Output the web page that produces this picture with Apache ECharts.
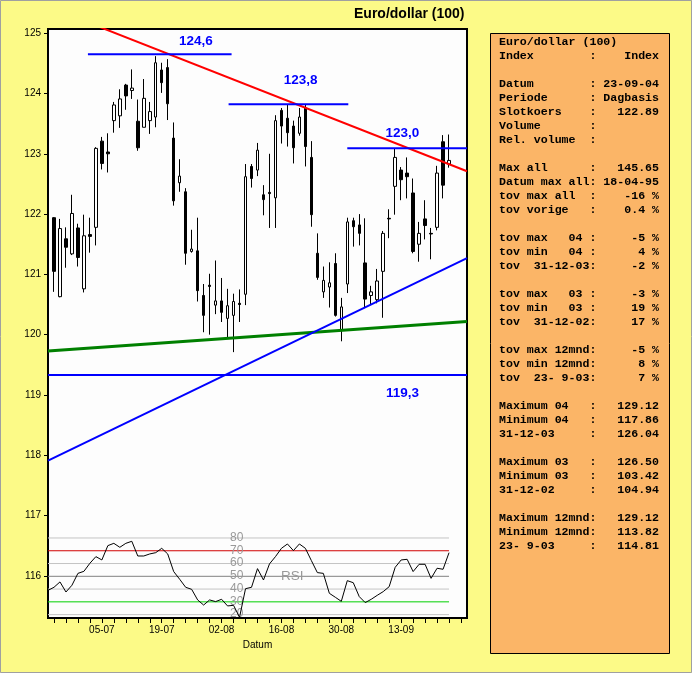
<!DOCTYPE html>
<html lang="nl">
<head>
<meta charset="UTF-8">
<title>Euro/dollar (100)</title>
<script src="https://cdn.jsdelivr.net/npm/echarts@6/dist/echarts.min.js"></script>
<style>
    html, body { margin: 0; padding: 0; background: #FCFA87; }
    #main { width: 692px; height: 673px; }
</style>
</head>
<body>
<div id="main"></div>
<script>
// trading days; the first day only carries the start of the RSI line
let dates = ['22-06', '23-06', '24-06', '25-06', '28-06', '29-06', '30-06',
    '01-07', '02-07', '05-07', '06-07', '07-07', '08-07', '09-07', '12-07', '13-07', '14-07', '15-07', '16-07',
    '19-07', '20-07', '21-07', '22-07', '23-07', '26-07', '27-07', '28-07', '29-07', '30-07',
    '02-08', '03-08', '04-08', '05-08', '06-08', '09-08', '10-08', '11-08', '12-08', '13-08',
    '16-08', '17-08', '18-08', '19-08', '20-08', '23-08', '24-08', '25-08', '26-08', '27-08', '30-08', '31-08',
    '01-09', '02-09', '03-09', '06-09', '07-09', '08-09', '09-09', '10-09',
    '13-09', '14-09', '15-09', '16-09', '17-09', '20-09', '21-09', '22-09', '23-09'];
let tickLabels = ['05-07', '19-07', '02-08', '16-08', '30-08', '13-09'];
let yTicks = [116, 117, 118, 119, 120, 121, 122, 123, 124, 125];

// candles from 23-06 to 23-09
let open = [121.94, 120.63, 121.59, 121.34, 121.77, 120.76, 121.66, 121.78, 123.21, 123.03,
    123.55, 123.63, 124.14, 124.05, 123.54, 123.44, 123.55, 123.61, 124.39, 124.43,
    123.26, 122.52, 122.37, 121.38, 121.39, 120.65, 120.82, 120.49, 120.56, 120.27,
    120.32, 120.52, 120.67, 122.79, 122.73, 122.32, 122.36, 122.27, 123.72, 123.59,
    123.46, 123.34, 123.76, 122.94, 121.35, 120.71, 120.79, 121.18, 120.07, 120.84,
    121.89, 121.82, 121.19, 120.65, 120.58, 121.05, 121.93, 122.46, 122.73, 122.68,
    122.35, 121.50, 121.92, 121.68, 121.78, 123.20, 122.83];
let close = [121.05, 121.76, 121.45, 122.01, 121.28, 121.64, 121.63, 123.09, 122.84, 123.00,
    123.81, 123.91, 123.96, 124.09, 123.10, 123.92, 123.70, 124.51, 124.18, 123.83,
    122.22, 122.63, 121.35, 121.42, 120.73, 120.32, 120.80, 120.56, 120.37, 120.48,
    120.55, 120.50, 122.62, 122.59, 123.06, 122.24, 122.34, 123.55, 123.46, 123.35,
    123.10, 123.61, 123.12, 121.99, 120.95, 120.90, 120.86, 120.32, 120.46, 121.87,
    121.79, 121.68, 120.59, 120.71, 120.89, 121.68, 121.92, 122.94, 122.57, 122.62,
    121.38, 121.68, 121.81, 121.67, 122.68, 122.48, 122.89];
let high = [121.95, 121.92, 121.78, 122.32, 121.84, 121.99, 121.94, 123.11, 123.28, 123.34,
    123.86, 124.07, 124.16, 124.40, 123.90, 124.24, 123.86, 124.62, 124.51, 124.57,
    123.52, 122.91, 122.43, 121.74, 121.94, 120.84, 121.01, 121.23, 120.94, 120.76,
    120.68, 120.75, 122.83, 122.83, 123.18, 122.48, 123.00, 123.64, 123.76, 123.81,
    123.55, 123.76, 123.81, 123.21, 121.68, 121.13, 121.20, 121.35, 120.61, 121.94,
    121.94, 122.00, 121.93, 120.81, 121.09, 121.72, 122.08, 123.09, 122.78, 122.94,
    122.59, 121.87, 122.23, 121.77, 122.80, 123.31, 123.32];
let low = [120.71, 120.62, 121.11, 121.32, 121.13, 120.70, 121.36, 121.48, 122.74, 122.69,
    123.35, 123.43, 123.73, 123.91, 123.05, 123.44, 123.33, 123.44, 124.01, 123.56,
    122.14, 122.37, 121.16, 121.36, 120.55, 120.04, 120.00, 120.34, 120.21, 119.96,
    119.71, 120.21, 120.49, 122.44, 122.63, 121.98, 121.77, 121.77, 123.17, 123.12,
    122.84, 123.30, 122.79, 121.79, 120.91, 120.61, 120.45, 120.30, 119.89, 120.69,
    121.46, 121.48, 120.44, 120.49, 120.52, 120.28, 121.60, 121.99, 122.23, 122.26,
    121.35, 121.21, 121.58, 121.25, 121.73, 122.26, 122.77];

// RSI, one value per date (including 22-06)
let rsi = [39.0, 41.4, 45.6, 37.7, 43.0, 52.3, 53.9, 60.2, 65.4, 62.8, 74.0,
    75.8, 72.7, 75.8, 77.4, 65.9, 65.9, 67.5, 68.5, 71.9, 67.5,
    53.7, 47.7, 41.4, 39.8, 31.5, 27.5, 31.5, 30.2, 32.0, 26.8,
    27.3, 17.9, 40.3, 41.4, 56.0, 47.1, 59.7, 65.4, 71.9, 75.3,
    70.1, 75.3, 71.9, 62.3, 52.9, 52.3, 36.7, 33.6, 30.4, 46.6,
    45.0, 34.1, 29.4, 32.0, 35.1, 38.0, 41.9, 57.0, 62.8, 63.3,
    53.7, 59.4, 59.4, 48.4, 56.3, 55.5, 68.5];
let rsiLevels = [80, 70, 60, 50, 40, 30, 20];
let rsiLevelColors = ['#C4C4C4', '#D00000', '#C4C4C4', '#808080', '#C4C4C4', '#00D000', '#C4C4C4'];

// trend lines, [date index, price] at both ends
let redLine = [[0, 125.44], [70, 122.71]];
let greenLine = [[0, 119.73], [70, 120.22]];
let blueLine = [[0, 117.91], [70, 121.27]];

// horizontal levels
let levelValue = [124.65, 123.82, 123.09, 119.33];
let levelFrom = [6.67, 30.17, 50, 0];
let levelTo = [30.67, 50.17, 70, 70];
let levelText = ['124,6', '123,8', '123,0', '119,3'];
let levelTagX = [24.8, 42.3, 59.3, 59.3];
let levelTagY = [124.85, 124.21, 123.34, 119.02];

let infoRows = [
    ['Euro/dollar (100)', null],
    ['Index', 'Index'],
    null,
    ['Datum', '23-09-04'],
    ['Periode', 'Dagbasis'],
    ['Slotkoers', '122.89'],
    ['Volume', ''],
    ['Rel. volume', ''],
    null,
    ['Max all', '145.65'],
    ['Datum max all', '18-04-95'],
    ['tov max all', '-16 %'],
    ['tov vorige', '0.4 %'],
    null,
    ['tov max   04', '-5 %'],
    ['tov min   04', '4 %'],
    ['tov  31-12-03', '-2 %'],
    null,
    ['tov max   03', '-3 %'],
    ['tov min   03', '19 %'],
    ['tov  31-12-02', '17 %'],
    null,
    ['tov max 12mnd', '-5 %'],
    ['tov min 12mnd', '8 %'],
    ['tov  23- 9-03', '7 %'],
    null,
    ['Maximum 04', '129.12'],
    ['Minimum 04', '117.86'],
    ['31-12-03', '126.04'],
    null,
    ['Maximum 03', '126.50'],
    ['Minimum 03', '103.42'],
    ['31-12-02', '104.94'],
    null,
    ['Maximum 12mnd', '129.12'],
    ['Minimum 12mnd', '113.82'],
    ['23- 9-03', '114.81']
];

let infoText = infoRows.map(function (r) {
    if (!r) return '';
    if (r[1] === null) return r[0];
    return r[0].padEnd(13) + ':' + r[1].padStart(9);
}).join('\n');

let categories = dates.concat(['', '', '']);
let candles = dates.map(function (d, i) {
    if (i === 0) return '-';
    return [open[i - 1], close[i - 1], low[i - 1], high[i - 1]];
});

let myChart = echarts.init(document.getElementById('main'));

let font = 'Liberation Sans';
let trend = function (data, color, width) {
    return {
        type: 'line', xAxisIndex: 1, yAxisIndex: 0, data: data,
        symbol: 'none', silent: true, z: 3,
        lineStyle: {color: color, width: width}
    };
};
// centred text label on an invisible point
let tagLabel = function (color, size, weight) {
    return {
        show: true, position: [0, 0], align: 'center', verticalAlign: 'middle',
        formatter: '{b}', color: color, fontSize: size, fontWeight: weight,
        fontFamily: font, textBorderWidth: 0
    };
};

let series = [];
series.push({
    type: 'candlestick',
    xAxisIndex: 0, yAxisIndex: 0,
    data: candles,
    barWidth: 3,
    silent: true,
    z: 2,
    itemStyle: {
        color: '#ffffff', color0: '#000000',
        borderColor: '#000000', borderColor0: '#000000',
        borderWidth: 1
    }
});
series.push(trend(greenLine, '#008000', 3));
series.push(trend(blueLine, '#0000FF', 2));
series.push(trend(redLine, '#FF0000', 2));
levelValue.forEach(function (v, i) {
    series.push(trend([[levelFrom[i], v], [levelTo[i], v]], '#0000FF', 2));
});
series.push({
    type: 'scatter', xAxisIndex: 1, yAxisIndex: 0, silent: true, z: 5,
    symbolSize: 1,
    itemStyle: {color: 'rgba(0,0,0,0)', opacity: 1},
    data: levelText.map(function (t, i) {
        return {name: t, value: [levelTagX[i], levelTagY[i]]};
    }),
    label: tagLabel('#0000FF', 13.5, 'bold')
});

// RSI panel
rsiLevels.forEach(function (v, i) {
    series.push({
        type: 'line', xAxisIndex: 2, yAxisIndex: 1, silent: true, z: 2,
        symbol: 'none',
        data: [[0, v], [dates.length - 1, v]],
        lineStyle: {color: rsiLevelColors[i], width: 1}
    });
});
series.push({
    type: 'scatter', xAxisIndex: 2, yAxisIndex: 1, silent: true, z: 3,
    symbolSize: 1,
    itemStyle: {color: 'rgba(0,0,0,0)', opacity: 1},
    data: rsiLevels.map(function (v) { return {name: String(v), value: [31.6, v]}; })
        .concat([{name: 'RSI', value: [40.9, 50], label: {fontSize: 13.5}}]),
    label: tagLabel('#999999', 12, 'normal')
});
series.push({
    type: 'line', xAxisIndex: 2, yAxisIndex: 1, silent: true, z: 4,
    symbol: 'none',
    data: rsi.map(function (v, i) { return [i, v]; }),
    lineStyle: {color: '#000000', width: 1}
});

let option = {
    animation: false,
    backgroundColor: '#FCFA87',
    title: {
        text: 'Euro/dollar (100)',
        left: 349, top: 2,
        textStyle: {fontSize: 14, fontWeight: 'bold', color: '#000', fontFamily: font}
    },
    grid: [
        {left: 48, top: 29, width: 419, height: 589, show: true,
            backgroundColor: '#FDFDFD', borderColor: '#000000', borderWidth: 2,
            outerBoundsMode: 'none'},
        {left: 48, top: 525.2, width: 419, height: 102.2, show: false,
            outerBoundsMode: 'none'}
    ],
    xAxis: [
        {
            type: 'category', gridIndex: 0, data: categories, boundaryGap: false,
            axisLine: {show: false},
            axisTick: {
                show: true, length: 5, lineStyle: {color: '#000'},
                interval: function (i) { return i % 2 === 1; }
            },
            axisLabel: {
                interval: function (i, v) { return tickLabels.indexOf(v) >= 0; },
                color: '#000', fontSize: 10, fontFamily: font, margin: 7
            },
            splitLine: {show: false},
            name: 'Datum', nameLocation: 'middle', nameGap: 22,
            nameTextStyle: {color: '#000', fontSize: 10, fontFamily: font}
        },
        {type: 'value', gridIndex: 0, min: 0, max: 70, show: false},
        {type: 'value', gridIndex: 1, min: 0, max: 70, show: false}
    ],
    yAxis: [
        {
            type: 'value', gridIndex: 0, min: 115.30, max: 125.07,
            axisLine: {show: false},
            axisTick: {show: true, length: 4, lineStyle: {color: '#000'}, customValues: yTicks},
            axisLabel: {
                color: '#000', fontSize: 10, fontFamily: font, margin: 7,
                customValues: yTicks
            },
            splitLine: {show: false}
        },
        {type: 'value', gridIndex: 1, min: 10, max: 90, show: false}
    ],
    graphic: [
        {
            type: 'rect', silent: true,
            shape: {x: 0.5, y: 0.5, width: 691, height: 672},
            style: {fill: null, stroke: '#A0A0A0', lineWidth: 1}
        },
        {
            type: 'rect', silent: true,
            shape: {x: 490.5, y: 33.5, width: 179, height: 620},
            style: {fill: '#FBB567', stroke: '#000', lineWidth: 1}
        },
        {
            type: 'text', silent: true,
            x: 499, y: 35.5,
            style: {
                text: infoText,
                fontFamily: 'Liberation Mono', fontSize: 11.6, fontWeight: 'bold',
                lineHeight: 14, fill: '#000'
            }
        }
    ],
    series: series
};
myChart.setOption(option);
</script>
</body>
</html>
